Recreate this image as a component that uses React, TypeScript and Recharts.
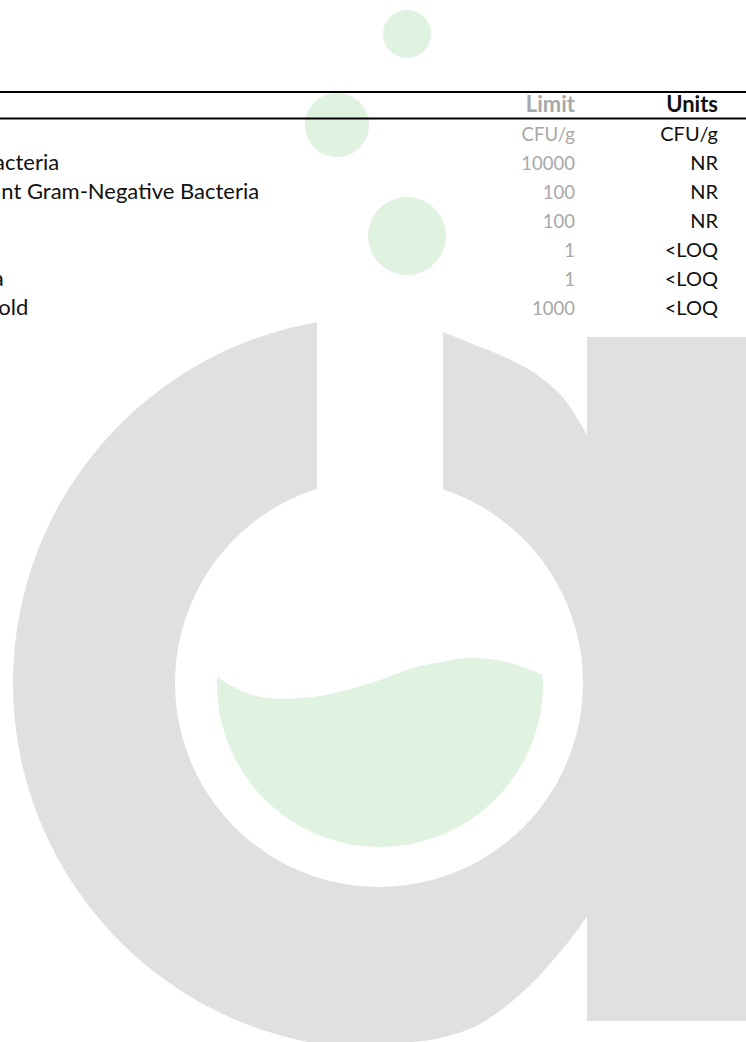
import React from 'react';
import { PieChart, Pie, ComposedChart, Area, XAxis, YAxis } from 'recharts';

const W = 746;
const H = 1042;

// ---- table data ----
const headerLabels = ['Analyte', 'Limit', 'Units'];
const analytes = ['', 'Aerobic Bacteria', 'Bile-Tolerant Gram-Negative Bacteria', 'Coliforms', 'E. coli', 'Salmonella', 'Yeast & Mold'];
const limits = ['CFU/g', '10000', '100', '100', '1', '1', '1000'];
const units = ['CFU/g', 'NR', 'NR', 'NR', '<LOQ', '<LOQ', '<LOQ'];

// ---- watermark logo shapes ----
const bubbles = [
  { cx: 407, cy: 34, r: 24 },
  { cx: 337, cy: 125, r: 32 },
  { cx: 407, cy: 236, r: 39 },
];
const bowl = { cx: 379, cy: 683, inner: 204, outer: 366 };
const liquid = { cx: 380, cy: 684, r: 163 };

const waveX = [217, 230, 247, 280, 313, 347, 380, 413, 447, 470, 497, 523, 543];
const waveY = [677, 685, 693, 699, 697, 690, 680, 668, 661, 658, 660, 667, 675];
const capTop = 500;

const neckX = [317, 443];
const neckY = [300, 490];

const topNotchX = [443, 470, 500, 540, 565, 583, 590];
const topNotchY = [332, 343, 355, 377, 400, 428, 440];

const bottomNotchX = [400, 440, 480, 510, 540, 560, 573, 583, 592];
const bottomNotchY = [1043, 1038, 1024, 1003, 975, 952, 936, 922, 910];

const stemX = [587, 746];
const stemY = [337, 1021];

const GRAY = '#dfe0df';
const GREEN = '#e0f2e0';

const capData = waveX.map((x, i) => ({ x, range: [capTop, waveY[i]] }));
const neckData = neckX.map((x) => ({ x, range: [neckY[0], neckY[1]] }));
const topNotchData = topNotchX.map((x, i) => ({ x, range: [neckY[0], topNotchY[i]] }));
const bottomNotchData = bottomNotchX.map((x, i) => ({ x, range: [bottomNotchY[i], H] }));
const stemData = stemX.map((x) => ({ x, range: [stemY[0], stemY[1]] }));

const layer: React.CSSProperties = { position: 'absolute', left: 0, top: 0 };
const M = { top: 0, right: 0, bottom: 0, left: 0 };

const FONT = 'Lato, "Noto Sans", sans-serif';
const FS_HEAD = 22;
const FS_NAME = 22;
const FS_LIMIT = 18.5;
const FS_UNIT = 20;
const NAME_X = -100;
const LIMIT_X = 575;
const UNITS_X = 718;
const HEADER_BASE = 112;
const ROW_BASE = 141;
const ROW_STEP = 29;
const LIMIT_COLOR = '#a8a8a8';
const TEXT_COLOR = '#111111';

export default function App() {
  return (
    <div style={{ position: 'absolute', left: 0, top: 0, width: W, height: H, overflow: 'hidden', background: '#fff' }}>
      {/* liquid disc */}
      <div style={layer}>
        <PieChart width={W} height={H} margin={M}>
          <Pie data={[{ v: 1 }]} dataKey="v" cx={liquid.cx} cy={liquid.cy} innerRadius={0} outerRadius={liquid.r}
            startAngle={90} endAngle={450} fill={GREEN} stroke="none" isAnimationActive={false} />
        </PieChart>
      </div>
      {/* wave cap */}
      <div style={layer}>
        <ComposedChart width={W} height={H} margin={M}>
          <XAxis type="number" dataKey="x" domain={[0, W]} hide height={0} allowDataOverflow />
          <YAxis type="number" domain={[0, H]} reversed hide width={0} allowDataOverflow />
          <Area data={capData} dataKey="range" type="monotone" fill="#ffffff" fillOpacity={1} stroke="none" isAnimationActive={false} />
        </ComposedChart>
      </div>
      {/* bowl ring + bubbles */}
      <div style={layer}>
        <PieChart width={W} height={H} margin={M}>
          <Pie data={[{ v: 1 }]} dataKey="v" cx={bowl.cx} cy={bowl.cy} innerRadius={bowl.inner} outerRadius={bowl.outer}
            startAngle={90} endAngle={450} fill={GRAY} stroke="none" isAnimationActive={false} />
          {bubbles.map((b, i) => (
            <Pie key={i} data={[{ v: 1 }]} dataKey="v" cx={b.cx} cy={b.cy} innerRadius={0} outerRadius={b.r}
              startAngle={90} endAngle={450} fill={GREEN} stroke="none" isAnimationActive={false} />
          ))}
        </PieChart>
      </div>
      {/* neck, notches, stem */}
      <div style={layer}>
        <ComposedChart width={W} height={H} margin={M}>
          <XAxis type="number" dataKey="x" domain={[0, W]} hide height={0} allowDataOverflow />
          <YAxis type="number" domain={[0, H]} reversed hide width={0} allowDataOverflow />
          <Area data={neckData} dataKey="range" type="linear" fill="#ffffff" fillOpacity={1} stroke="none" isAnimationActive={false} />
          <Area data={topNotchData} dataKey="range" type="monotone" fill="#ffffff" fillOpacity={1} stroke="none" isAnimationActive={false} />
          <Area data={bottomNotchData} dataKey="range" type="monotone" fill="#ffffff" fillOpacity={1} stroke="none" isAnimationActive={false} />
          <Area data={stemData} dataKey="range" type="linear" fill={GRAY} fillOpacity={1} stroke="none" isAnimationActive={false} />
        </ComposedChart>
      </div>
      {/* table */}
      <svg width={W} height={H} style={layer}>
        <rect x={0} y={91} width={W} height={2} fill="#000" />
        <rect x={0} y={117.5} width={W} height={2} fill="#000" />
        <text x={NAME_X} y={HEADER_BASE} fontFamily={FONT} fontSize={FS_HEAD} fontWeight={700} fill={TEXT_COLOR}>{headerLabels[0]}</text>
        <text x={LIMIT_X} y={HEADER_BASE} fontFamily={FONT} fontSize={FS_HEAD} fontWeight={700} fill={LIMIT_COLOR} textAnchor="end">{headerLabels[1]}</text>
        <text x={UNITS_X} y={HEADER_BASE} fontFamily={FONT} fontSize={FS_HEAD} fontWeight={700} fill={TEXT_COLOR} textAnchor="end">{headerLabels[2]}</text>
        {analytes.map((name, i) => {
          const y = ROW_BASE + ROW_STEP * i;
          return (
            <g key={i}>
              <text x={NAME_X} y={y} fontFamily={FONT} fontSize={FS_NAME} fill={TEXT_COLOR}>{name}</text>
              <text x={LIMIT_X} y={y} fontFamily={FONT} fontSize={FS_LIMIT} fill={LIMIT_COLOR} textAnchor="end">{limits[i]}</text>
              <text x={UNITS_X} y={y} fontFamily={FONT} fontSize={FS_UNIT} fill={TEXT_COLOR} textAnchor="end">{units[i]}</text>
            </g>
          );
        })}
      </svg>
    </div>
  );
}
